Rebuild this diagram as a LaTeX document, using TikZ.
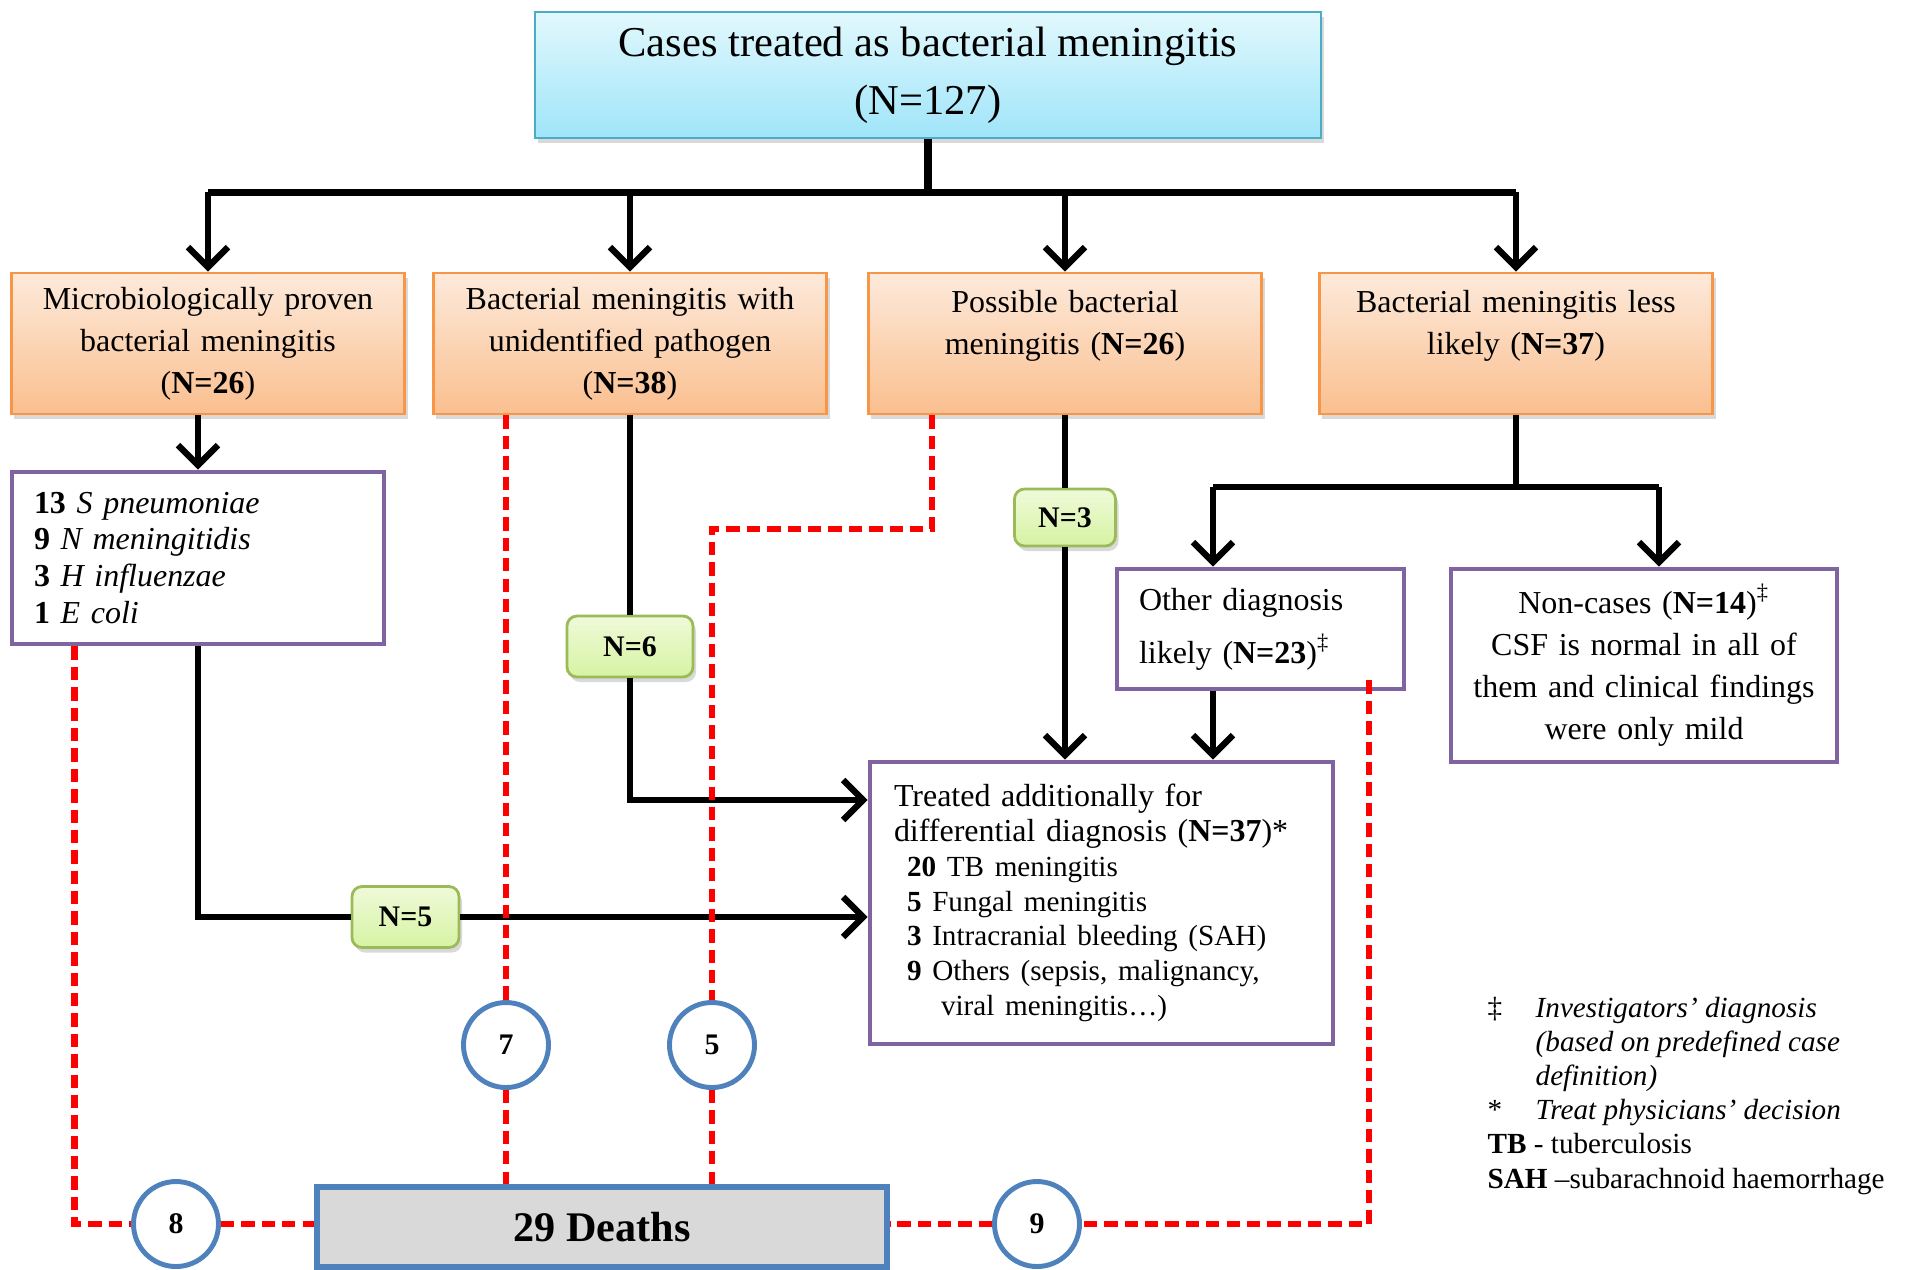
\documentclass[tikz,border=0pt]{standalone}
\usepackage{fontspec}
\setmainfont{Liberation Serif}
\usetikzlibrary{arrows.meta,shadows,calc}
\definecolor{cyanline}{HTML}{4BACC6}
\definecolor{cyantop}{HTML}{E2F8FD}
\definecolor{cyanbot}{HTML}{9FE5F9}
\definecolor{orline}{HTML}{F79646}
\definecolor{ortop}{HTML}{FDEADB}
\definecolor{orbot}{HTML}{FABF8F}
\definecolor{grline}{HTML}{9BBB59}
\definecolor{grtop}{HTML}{EFFAD9}
\definecolor{grbot}{HTML}{D6F3A3}
\definecolor{purp}{HTML}{8064A2}
\definecolor{bluel}{HTML}{4F81BD}
\definecolor{greyf}{HTML}{D9D9D9}

\begin{document}
\begin{tikzpicture}[>={Straight Barb[length=2mm,width=4mm]},
  conn/.style={line width=1.8pt},
  dead/.style={draw=red, line width=1.8pt, dash pattern=on 3.8pt off 2pt},
  lift/.style={drop shadow={shadow xshift=0.03cm,shadow yshift=-0.05cm,opacity=0.3}},
  branch/.style={lift, draw=orline, line width=0.8pt, top color=ortop, bottom color=orbot, minimum width=3.9cm, minimum height=1.41cm, text width=3.7cm, align=center, font=\fontsize{9.1}{12}\selectfont},
  listbox/.style={draw=purp, line width=1.4pt, fill=white, inner xsep=0.22cm, align=left, font=\fontsize{9.1}{10.5}\selectfont},
  nbox/.style={lift, draw=grline, line width=0.8pt, rounded corners=0.1cm, top color=grtop, bottom color=grbot, font=\bfseries\fontsize{8.5}{10}\selectfont},
  toll/.style={circle, draw=bluel, line width=1.4pt, fill=white, minimum size=0.85cm, inner sep=0pt, font=\bfseries\fontsize{8.5}{10}\selectfont}]
\useasboundingbox (0,0) rectangle (19.07,-12.69);

\node[lift, draw=cyanline, line width=0.8pt, top color=cyantop, bottom color=cyanbot, minimum width=7.86cm, minimum height=1.26cm, align=center, font=\fontsize{12.1}{16.5}\selectfont] (cases) at (9.28,-0.75) {Cases treated as bacterial meningitis\\(N=127)};

\node[branch] (proven) at (2.08,-3.435) {Microbiologically proven\\bacterial meningitis\\(\textbf{N=26})};
\node[branch] (unident) at (6.30,-3.435) {Bacterial meningitis with\\unidentified pathogen\\(\textbf{N=38})};
\node[branch] (possible) at (10.65,-3.435) {Possible bacterial\\meningitis (\textbf{N=26})\\\mbox{}};
\node[branch] (lesslikely) at (15.16,-3.435) {Bacterial meningitis less\\likely (\textbf{N=37})\\\mbox{}};

\node[listbox, minimum width=3.72cm, minimum height=1.72cm, text width=3.28cm] (species) at (1.98,-5.58) {\textbf{13} \textit{S pneumoniae}\\\textbf{9} \textit{N meningitidis}\\\textbf{3} \textit{H influenzae}\\\textbf{1} \textit{E coli}};
\node[listbox, minimum width=2.87cm, minimum height=1.20cm, text width=2.43cm, font=\fontsize{9.1}{15}\selectfont] (other) at (12.605,-6.29) {Other diagnosis\\likely (\textbf{N=23})\textsuperscript{‡}};
\node[listbox, minimum width=3.86cm, minimum height=1.93cm, text width=3.42cm, align=center, font=\fontsize{9.1}{12}\selectfont] (noncase) at (16.44,-6.655) {Non-cases (\textbf{N=14})\textsuperscript{‡}\\CSF is normal in all of\\them and clinical findings\\were only mild};
\node[listbox, minimum width=4.63cm, minimum height=2.82cm, text width=4.15cm, font=\fontsize{9.1}{9.9}\selectfont] (treated) at (11.015,-9.03) {Treated additionally for\\differential diagnosis (\textbf{N=37})*\\{\fontsize{8.3}{9.9}\selectfont\hspace*{0.13cm}\textbf{20} TB meningitis\\\hspace*{0.13cm}\textbf{5} Fungal meningitis\\\hspace*{0.13cm}\textbf{3} Intracranial bleeding (SAH)\\\hspace*{0.13cm}\textbf{9} Others (sepsis, malignancy,\\\hspace*{0.47cm}viral meningitis…)}};

\node[nbox, minimum width=1.26cm, minimum height=0.61cm] (nsix) at (6.30,-6.465) {N=6};
\node[nbox, minimum width=1.01cm, minimum height=0.57cm] (nthree) at (10.65,-5.175) {N=3};
\node[nbox, minimum width=1.07cm, minimum height=0.61cm] (nfive) at (4.055,-9.17) {N=5};

\node[draw=bluel, line width=1.6pt, fill=greyf, minimum width=5.70cm, minimum height=0.80cm, font=\bfseries\fontsize{12}{14}\selectfont] (deaths) at (6.02,-12.27) {29 Deaths};
\node[toll] (dseven) at (5.06,-10.45) {7};
\node[toll] (dfive) at (7.12,-10.45) {5};
\node[toll] (deight) at (1.76,-12.24) {8};
\node[toll] (dnine) at (10.37,-12.24) {9};

\coordinate (hub) at (9.28,-1.92);
\draw[line width=2.4pt] (cases) -- (hub);
\draw[line width=2pt] (proven.north |- hub) -- (lesslikely.north |- hub);
\foreach \b in {proven,unident,possible,lesslikely}
  \draw[conn,->] (\b.north |- hub) -- (\b.north);

\draw[conn,->] (species.north |- proven.south) -- (species.north);
\draw[conn] (unident) -- (nsix);
\draw[conn,->] (nsix) |- ([yshift=1.03cm]treated.west);
\draw[conn] (species.south) |- (nfive.west);
\draw[conn,->] (nfive) -- (nfive -| treated.west);
\draw[conn] (possible) -- (nthree);
\draw[conn,->] (nthree) -- (nthree |- treated.north);

\coordinate (splitl) at (12.13,-4.87);
\coordinate (splitr) at (16.59,-4.87);
\draw[conn] (lesslikely) -- (lesslikely |- splitl);
\draw[conn] (splitl) -- (splitr);
\draw[conn,->] (splitl) -- (splitl |- other.north);
\draw[conn,->] (splitr) -- (splitr |- noncase.north);
\draw[conn,->] (splitl |- other.south) -- (splitl |- treated.north);

\draw[dead] ([xshift=0.65cm]species.south west) |- (deight);
\draw[dead] (deight) -- (deight -| deaths.west);
\draw[dead] (dseven |- unident.south) -- (dseven);
\draw[dead] (dseven) -- (dseven |- deaths.north);
\coordinate (bend) at (9.32,-5.29);
\draw[dead] (bend |- possible.south) -- (bend) -| (dfive);
\draw[dead] (dfive) -- (dfive |- deaths.north);
\coordinate (corner) at (13.69,-12.24);
\draw[dead] ($(corner |- other.south)+(0,0.11)$) -- (corner) -- (dnine);
\draw[dead] (dnine) -- (dnine -| deaths.east);

\node[anchor=north west, inner sep=0pt, font=\fontsize{8.3}{9.7}\selectfont] (legend) at (14.87,-9.93) {\begin{tabular}{@{}p{0.48cm}@{}l@{}}‡ & \textit{Investigators’ diagnosis}\\ & \textit{(based on predefined case}\\ & \textit{definition)}\\{*} & \textit{Treat physicians’ decision}\\\multicolumn{2}{@{}l@{}}{\textbf{TB} - tuberculosis}\\\multicolumn{2}{@{}l@{}}{\textbf{SAH} –subarachnoid haemorrhage}\end{tabular}};

\end{tikzpicture}
\end{document}
